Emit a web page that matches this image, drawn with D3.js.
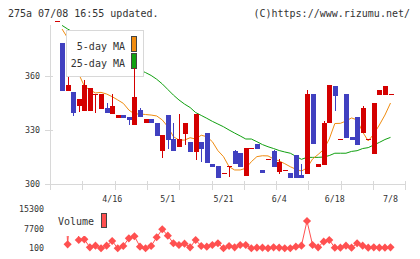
<!DOCTYPE html>
<html>
<head>
<meta charset="utf-8">
<script src="https://cdn.jsdelivr.net/npm/d3@7"></script>
<style>
  body { margin: 0; background: #fff; }
  svg { display: block; font-family: "DejaVu Sans Mono", monospace; }
</style>
</head>
<body>
<div id="chart"></div>
<script>
// candle data, one entry per trading day (index 0..60)
const opens  = [390.7,378.3,351.8,351.1,343.5,340.6,340.7,349.8,341.7,342.2,338.9,336.9,338.3,337.0,332.8,341.1,333.7,336.1,334.0,318.5,338.3,325.0,320.7,327.8,323.3,318.0,323.3,328.3,311.1,310.0,305.9,310.0,318.3,317.2,304.6,320.0,322.2,307.8,313.7,318.3,306.8,307.8,305.9,316.1,305.0,305.7,350.0,309.6,310.6,333.7,354.4,324.8,350.0,325.9,337.0,328.5,325.0,316.7,349.6,349.6,350.0];
const closes = [390.7,351.8,355.0,339.6,347.2,355.0,353.5,349.8,350.0,339.4,343.3,338.3,336.9,335.6,348.5,337.0,336.1,333.7,326.8,327.2,324.4,318.5,325.0,333.7,318.0,338.9,319.4,311.8,309.4,303.3,305.9,310.0,311.1,309.4,320.0,320.0,319.4,305.9,313.7,309.6,312.4,307.8,303.5,303.5,303.5,350.0,322.0,310.9,333.7,355.0,348.9,324.8,325.7,324.4,321.7,342.0,325.0,345.0,352.2,354.4,350.0];
const highs  = [390.7,378.3,359.6,351.1,347.2,357.8,353.5,349.8,350.0,345.0,349.8,338.3,338.3,337.0,364.3,342.4,336.1,336.1,334.0,327.2,338.3,333.7,338.9,333.7,323.3,338.9,323.3,328.3,311.1,310.0,305.9,310.0,318.9,317.2,320.0,320.0,322.2,307.8,313.7,318.9,313.7,307.8,305.9,316.1,310.9,352.2,350.0,310.9,335.0,355.0,354.4,324.8,350.0,325.9,337.0,343.3,325.0,345.0,352.2,354.4,350.0];
const lows   = [390.7,351.8,351.8,338.0,339.8,340.6,340.7,339.6,341.7,339.4,338.9,336.9,336.9,332.8,332.8,337.0,333.7,333.7,326.8,314.6,319.3,318.5,320.7,321.7,318.0,313.3,312.4,311.8,309.4,303.3,305.9,303.7,311.1,309.4,304.6,320.0,319.4,305.9,313.7,309.6,305.6,307.8,303.5,303.5,303.5,305.7,322.0,309.6,310.6,333.7,340.7,324.8,325.7,324.4,321.7,328.5,325.0,316.7,349.6,349.6,350.0];

// moving averages (null = not drawn)
const ma5  = [null,386.1,381.1,374.4,361.1,354.4,352.2,350.6,350.9,350.0,348.5,346.7,344.8,341.1,338.9,338.9,338.6,338.3,337.8,335.6,331.8,326.3,324.4,324.4,325.7,325.0,327.1,326.3,323.5,318.5,315.2,309.6,307.8,307.8,308.7,312.4,315.2,315.7,315.6,313.9,312.8,311.3,309.6,308.2,307.2,308.9,313.9,316.4,319.2,325.0,333.6,333.7,335.0,336.7,335.6,328.9,323.9,327.8,332.8,338.3,345.0];
const ma25 = [null,388.1,386.1,384.4,382.8,380.8,379.2,377.2,375.6,373.6,371.7,370.0,368.3,366.7,365.0,363.3,361.9,360.3,358.2,355.6,352.5,349.4,346.7,344.4,342.5,339.7,338.1,336.5,334.8,333.3,331.8,330.0,328.3,326.7,325.0,325.0,323.5,321.9,320.7,319.7,318.6,317.8,317.1,315.4,313.7,314.8,314.8,314.8,315.0,315.8,317.1,317.1,317.1,318.1,318.5,319.7,320.2,321.7,323.1,324.7,325.9];

// volume (first days of trading are off the top of the panel)
const volumes = [60000,45000,1650,30000,3340,3600,480,1130,100,1130,2950,100,1000,3990,4780,750,100,1000,4390,7500,5030,2050,1400,1920,480,3340,1000,750,1400,2050,100,1000,480,1400,1400,100,350,350,100,480,350,100,100,750,1130,10740,1400,480,2700,3340,350,350,1130,350,2050,1130,350,480,350,350,480];

const dateTicks = [[10, "4/16"], [20, "5/1"], [30, "5/21"], [40, "6/4"], [50, "6/18"], [60, "7/8"]];
const priceTicks = [300, 330, 360];
const volumeTicks = [100, 7700, 15300];

const width = 420, height = 259;
const red = "#d40000", blue = "#4040c0";
const orange = "#f08c10", green = "#10a010";
const volColor = "#ff5050", gridColor = "#d8d8d8";

const svg = d3.select("#chart").append("svg")
    .attr("width", width)
    .attr("height", height)
    .attr("viewBox", [0, 0, width, height]);

const x = d3.scaleLinear([0, opens.length - 1], [56.5, 390.5]);
const y = d3.scaleLinear([300, 360], [184, 76]);
const yv = d3.scaleLinear([100, 15300], [248.3, 209.3]);

// header texts
svg.append("text")
    .attr("x", 8).attr("y", 17)
    .attr("font-size", 10).attr("fill", "#333")
    .text("275a 07/08 16:55 updated.");
svg.append("text")
    .attr("x", 410).attr("y", 17)
    .attr("text-anchor", "end")
    .attr("font-size", 10).attr("fill", "#333")
    .text("(C)https://www.rizumu.net/");

// axes frame
const axis = svg.append("g")
    .attr("stroke", gridColor)
    .attr("shape-rendering", "crispEdges");
axis.append("line")
    .attr("x1", 50.5).attr("x2", 50.5)
    .attr("y1", 25).attr("y2", 190);
axis.append("line")
    .attr("x1", 45).attr("x2", 406)
    .attr("y1", y(300) + 0.5).attr("y2", y(300) + 0.5);
axis.selectAll(".yt")
    .data(priceTicks)
    .join("line")
    .attr("x1", 45).attr("x2", 53)
    .attr("y1", d => Math.round(y(d)) + 0.5)
    .attr("y2", d => Math.round(y(d)) + 0.5);
const gridX = d3.scaleLinear([0, 11], [50, 405.3]);
axis.selectAll(".xt")
    .data(d3.range(12))
    .join("line")
    .attr("x1", d => Math.round(gridX(d)) + 0.5)
    .attr("x2", d => Math.round(gridX(d)) + 0.5)
    .attr("y1", 181).attr("y2", 190);

svg.append("g")
    .attr("font-size", 8.3).attr("fill", "#333")
    .attr("text-anchor", "end")
    .selectAll("text")
    .data(priceTicks)
    .join("text")
    .attr("x", 40)
    .attr("y", d => y(d) + 3)
    .text(d => d);

svg.append("g")
    .attr("font-size", 8.3).attr("fill", "#333")
    .attr("text-anchor", "middle")
    .selectAll("text")
    .data(dateTicks)
    .join("text")
    .attr("x", d => x(d[0]))
    .attr("y", 201.5)
    .text(d => d[1]);

// moving averages
const maLine = d3.line()
    .defined(d => d != null)
    .x((d, i) => x(i))
    .y(d => y(d));
svg.append("path")
    .attr("d", maLine(ma25))
    .attr("fill", "none").attr("stroke", green).attr("stroke-width", 1);
svg.append("path")
    .attr("d", maLine(ma5))
    .attr("fill", "none").attr("stroke", orange).attr("stroke-width", 1);

// legend box
const lg = svg.append("g");
lg.append("rect")
    .attr("x", 66.5).attr("y", 30.5)
    .attr("width", 77).attr("height", 46)
    .attr("fill", "#fff").attr("stroke", gridColor);
lg.append("text")
    .attr("x", 125).attr("y", 49.5)
    .attr("text-anchor", "end").attr("font-size", 10).attr("fill", "#333")
    .text("5-day MA");
lg.append("text")
    .attr("x", 125).attr("y", 67)
    .attr("text-anchor", "end").attr("font-size", 10).attr("fill", "#333")
    .text("25-day MA");
lg.append("rect")
    .attr("x", 131.5).attr("y", 36.5).attr("width", 5).attr("height", 15)
    .attr("fill", orange).attr("stroke", "#444");
lg.append("rect")
    .attr("x", 131.5).attr("y", 53.5).attr("width", 5).attr("height", 15)
    .attr("fill", green).attr("stroke", "#444");

// candles
const candles = svg.append("g")
    .attr("shape-rendering", "crispEdges")
    .selectAll("g")
    .data(d3.range(opens.length))
    .join("g")
    .attr("fill", i => closes[i] >= opens[i] ? red : blue)
    .attr("stroke", i => closes[i] >= opens[i] ? red : blue);
candles.append("line")
    .attr("x1", i => Math.round(x(i)) + 0.5)
    .attr("x2", i => Math.round(x(i)) + 0.5)
    .attr("y1", i => y(highs[i]))
    .attr("y2", i => y(lows[i]));
candles.append("rect")
    .attr("stroke", "none")
    .attr("x", i => Math.round(x(i)) - 2)
    .attr("width", 5)
    .attr("y", i => y(Math.max(opens[i], closes[i])))
    .attr("height", i => Math.max(1, Math.abs(y(opens[i]) - y(closes[i]))));

// volume panel
const vol = svg.append("g");
vol.append("clipPath").attr("id", "vclip")
    .append("rect").attr("x", 0).attr("y", 210).attr("width", width).attr("height", 49);
vol.append("path")
    .attr("clip-path", "url(#vclip)")
    .attr("d", d3.line().x((d, i) => x(i)).y(d => yv(d))(volumes))
    .attr("fill", "none").attr("stroke", volColor).attr("stroke-width", 1);
vol.append("g")
    .attr("clip-path", "url(#vclip)")
    .attr("fill", volColor)
    .selectAll("path")
    .data(volumes)
    .join("path")
    .attr("d", d3.symbol(d3.symbolDiamond2, 42))
    .attr("transform", (d, i) => `translate(${x(i)},${yv(d)})`);

// volume legend (white background hides the off-scale start)
vol.append("rect")
    .attr("x", 55).attr("y", 209).attr("width", 55).attr("height", 27)
    .attr("fill", "#fff");
vol.append("text")
    .attr("x", 58).attr("y", 225)
    .attr("font-size", 10).attr("fill", "#333")
    .text("Volume");
vol.append("rect")
    .attr("x", 101.5).attr("y", 213.5).attr("width", 5).attr("height", 14)
    .attr("fill", volColor).attr("stroke", "#444");

svg.append("g")
    .attr("font-size", 8.3).attr("fill", "#333")
    .attr("text-anchor", "end")
    .selectAll("text")
    .data(volumeTicks)
    .join("text")
    .attr("x", 44)
    .attr("y", d => yv(d) + 3)
    .text(d => d);
</script>
</body>
</html>
